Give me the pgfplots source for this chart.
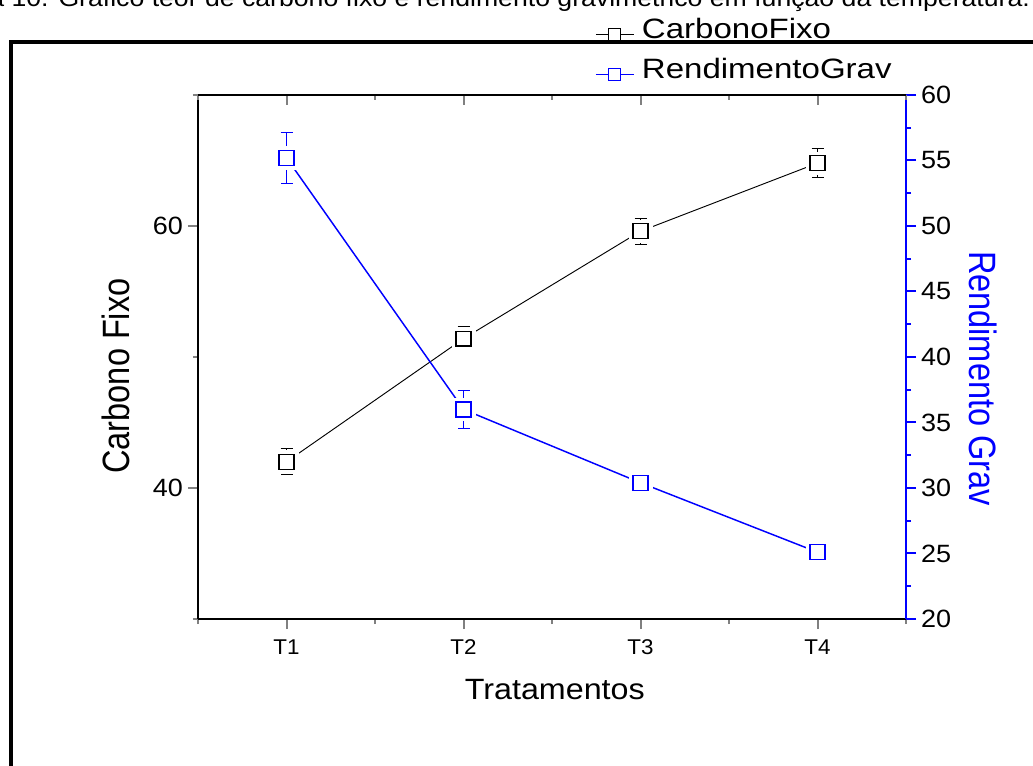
\documentclass[border=0pt]{standalone}
\usepackage{fontspec}
\setmainfont{Liberation Sans}
\usepackage{graphicx}
\usepackage{pgfplots}
\usepackage{pgfplotstable}
\pgfplotsset{compat=1.18}

\definecolor{rendblue}{RGB}{0,0,255}

% Carbono fixo (left axis) and rendimento gravimetrico (right axis), mean and error
\pgfplotstableread{
x y e
1 42.0 1.0
2 51.4 0.9
3 59.6 1.0
4 64.8 1.1
}\carbono
\pgfplotstableread{
x y e
1 55.2 1.95
2 36.0 1.45
3 30.4 0.5
4 25.1 0.45
}\rendimento

\pgfplotsset{
  base/.style={
    at={(148.5pt,109.5pt)}, anchor=south west,
    scale only axis, width=531pt, height=393pt,
    xmin=0.5, xmax=4.5,
    axis line style={-, line width=2pt},
    major tick length=7.5pt, minor tick length=3.75pt,
    tick style={line width=1.5pt},
    /pgf/number format/assume math mode=true,
    clip=false,
  },
}

\begin{document}
\begin{tikzpicture}
\useasboundingbox (0,0) rectangle (774.75pt,573.75pt);
\clip (0,0) rectangle (774.75pt,573.75pt);

% caption line and page frame
\node[anchor=base west, inner sep=0pt, xscale=1.11, font=\fontsize{18}{22}\selectfont]
  at (8.5pt,568.5pt) {\llap{Figura }10. Gráfico teor de carbono fixo e rendimento gravimétrico em função da temperatura.};
\draw[line width=3pt, line join=miter] (8.25pt,-10pt) -- (8.25pt,542.25pt) -- (800pt,542.25pt);

% left axis: Carbono Fixo
\begin{axis}[base,
  ymin=30, ymax=70,
  axis x line*=bottom, axis y line*=left, tick align=outside,
  xtick={1,2,3,4}, xticklabels={T1,T2,T3,T4},
  minor xtick={0.5,1.5,2.5,3.5,4.5},
  ytick={40,60}, minor ytick={30,50,70},
  xticklabel style={font=\fontsize{16}{19}\selectfont, xscale=1.05, yshift=-4.5pt},
  yticklabel style={font=\fontsize{18.75}{22}\selectfont, xscale=1.08},
  xlabel={\scalebox{1.1}[1]{Tratamentos}},
  ylabel={\scalebox{1}[1.17]{Carbono Fixo}},
  every axis x label/.style={at={(axis description cs:0.504,-0.1527)}, anchor=base,
    font=\fontsize{22}{26}\selectfont},
  every axis y label/.style={at={(axis description cs:-0.1158,0.4637)}, anchor=center,
    rotate=90, font=\fontsize{24.4}{28}\selectfont},
]
\addplot[black, line width=0.7pt, forget plot] table[x=x,y=y]{\carbono};
\addplot[only marks, mark=square*, mark size=8.5pt, white, forget plot] table[x=x,y=y]{\carbono};
\addplot[black, only marks, mark=square*, mark size=5.6pt,
  mark options={fill=white, draw=black, line width=1pt}, forget plot,
  error bars/.cd, y dir=both, y explicit,
  error bar style={line width=0.75pt},
  error mark options={rotate=90, mark size=4.5pt, line width=0.75pt}]
  table[x=x, y=y, y error=e]{\carbono};
\end{axis}

% right axis: Rendimento Grav
\begin{axis}[base,
  ymin=20, ymax=60,
  axis x line=none, axis y line*=right, tick align=outside,
  ytick={20,25,...,60}, minor ytick={22.5,27.5,...,57.5},
  y axis line style={rendblue}, ytick style={rendblue},
  every minor tick/.append style={rendblue},
  yticklabel style={font=\fontsize{18.75}{22}\selectfont, xscale=1.08, black},
  ylabel={\scalebox{1}[1.17]{Rendimento Grav}},
  every axis y label/.style={at={(axis description cs:1.1088,0.459)}, anchor=center,
    rotate=-90, text=rendblue, font=\fontsize{24.4}{28}\selectfont},
  legend image code/.code={\draw[mark repeat=2, mark phase=2, #1]
    plot coordinates {(0pt,-4pt) (14.25pt,-4pt) (28.5pt,-4pt)};
    \path (32pt,-4pt);},
  legend style={draw=none, fill=none, inner sep=0pt,
    at={(axis description cs:0.5607,1.1525)}, anchor=north west,
    font=\fontsize{21}{25}\selectfont, row sep=9.5pt},
  legend cell align=left,
]
\addlegendimage{black, line width=0.75pt, mark=square*, mark size=4.5pt,
  mark options={fill=white, draw=black, line width=0.75pt}}
\addlegendentry{\scalebox{1.18}[1]{CarbonoFixo}}
\addlegendimage{rendblue, line width=1pt, mark=square*, mark size=4.5pt,
  mark options={fill=white, draw=rendblue, line width=0.75pt}}
\addlegendentry{\scalebox{1.18}[1]{RendimentoGrav}}

\addplot[rendblue, line width=1.1pt, forget plot] table[x=x,y=y]{\rendimento};
\addplot[only marks, mark=square*, mark size=8.5pt, white, forget plot] table[x=x,y=y]{\rendimento};
\addplot[rendblue, only marks, mark=square*, mark size=5.6pt,
  mark options={fill=white, draw=rendblue, line width=1pt}, forget plot,
  error bars/.cd, y dir=both, y explicit,
  error bar style={line width=0.75pt},
  error mark options={rotate=90, mark size=4.5pt, line width=0.75pt}]
  table[x=x, y=y, y error=e]{\rendimento};
\end{axis}

% top axis line with inward ticks
\begin{axis}[base,
  ymin=0, ymax=1,
  axis y line=none, axis x line*=top, tick align=inside,
  xtick={1,2,3,4}, xticklabels={{},{},{},{}},
  minor xtick={0.5,1.5,2.5,3.5,4.5},
]
\end{axis}
\end{tikzpicture}
\end{document}
